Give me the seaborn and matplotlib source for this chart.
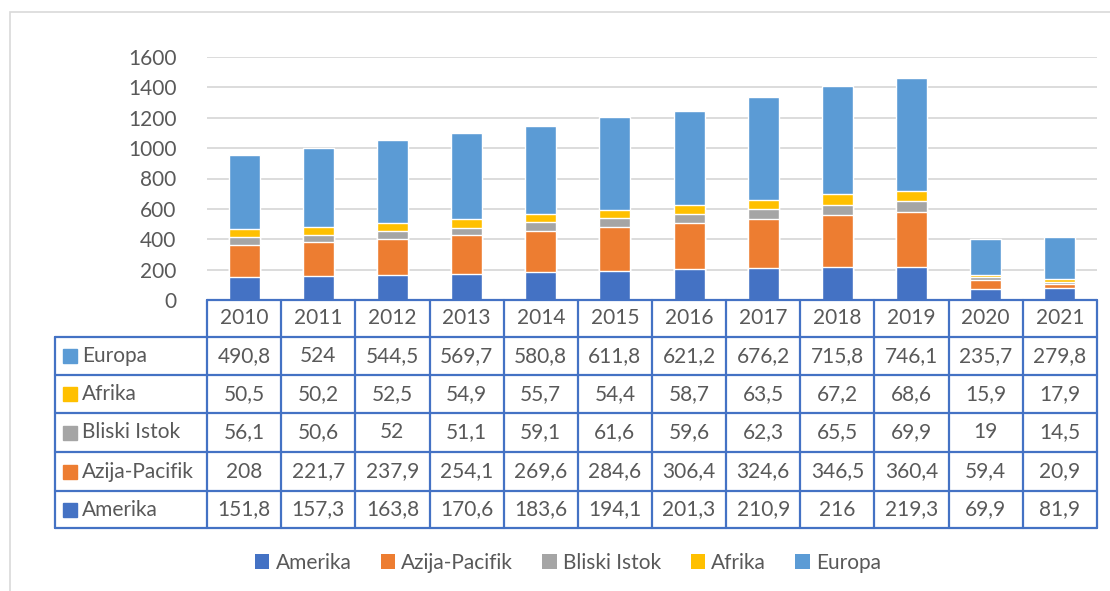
import numpy as np
import pandas as pd
import seaborn as sns
import matplotlib.pyplot as plt
from matplotlib.lines import Line2D
from matplotlib.patches import Rectangle, Patch

years = ["2010", "2011", "2012", "2013", "2014", "2015", "2016", "2017", "2018", "2019", "2020", "2021"]
amerika = [151.8, 157.3, 163.8, 170.6, 183.6, 194.1, 201.3, 210.9, 216, 219.3, 69.9, 81.9]
azija = [208, 221.7, 237.9, 254.1, 269.6, 284.6, 306.4, 324.6, 346.5, 360.4, 59.4, 20.9]
bliski = [56.1, 50.6, 52, 51.1, 59.1, 61.6, 59.6, 62.3, 65.5, 69.9, 19, 14.5]
afrika = [50.5, 50.2, 52.5, 54.9, 55.7, 54.4, 58.7, 63.5, 67.2, 68.6, 15.9, 17.9]
europa = [490.8, 524, 544.5, 569.7, 580.8, 611.8, 621.2, 676.2, 715.8, 746.1, 235.7, 279.8]

series = ["Amerika", "Azija-Pacifik", "Bliski Istok", "Afrika", "Europa"]
colors = ["#4472C4", "#ED7D31", "#A5A5A5", "#FFC000", "#5B9BD5"]

df = pd.DataFrame({"year": years, "Amerika": amerika, "Azija-Pacifik": azija,
                   "Bliski Istok": bliski, "Afrika": afrika, "Europa": europa})
cum = df[series].cumsum(axis=1)

sns.set_style("white")
plt.rcParams["font.family"] = ["Lato", "DejaVu Sans"]
txt = "#595959"
fs = 15

W, H = 1110, 591
fig = plt.figure(figsize=(W / 100, H / 100), dpi=100)

def fx(px):
    return px / W

def fy(py):
    return 1 - py / H

# plot area in pixel layout
left, right, top, base = 207, 1097, 57, 300
ax = fig.add_axes([fx(left), fy(base), fx(right - left), (base - top) / H])

# stacked bars: draw cumulative totals from top series down
for name, col in reversed(list(zip(series, colors))):
    sns.barplot(x=df["year"], y=cum[name], color=col, width=0.42,
                saturation=1, ax=ax, zorder=3)

ax.set_ylim(0, 1600)
ax.set_xlim(-0.5, len(years) - 0.5)
ax.set_yticks(np.arange(0, 1601, 200))
ax.yaxis.grid(True, color="#D9D9D9", linewidth=1.3, zorder=0)
ax.set_axisbelow(True)
ax.set_xticks([])
ax.set_xlabel("")
ax.set_ylabel("")
ax.tick_params(axis="y", length=0, labelsize=fs, labelcolor=txt, pad=22)
for s in ax.spines.values():
    s.set_visible(False)

# outer chart border (right and bottom fall outside the picture)
fig.add_artist(Rectangle((fx(10), fy(620)), fx(1130), (620 - 12) / H,
                         transform=fig.transFigure, fill=False,
                         edgecolor="#D9D9D9", linewidth=1.2))

# data table
tab_left = 55
row_y = [300, 337, 375, 413, 452, 491, 528]
colw = (right - left) / len(years)
line_col = "#4472C4"

def hline(x0, x1, y):
    fig.add_artist(Line2D([fx(x0), fx(x1)], [fy(y), fy(y)], color=line_col, lw=1.6))

def vline(x, y0, y1):
    fig.add_artist(Line2D([fx(x), fx(x)], [fy(y0), fy(y1)], color=line_col, lw=1.6))

hline(left, right, row_y[0])
for y in row_y[1:]:
    hline(tab_left, right, y)
for i in range(len(years) + 1):
    vline(left + i * colw, row_y[0], row_y[-1])
vline(tab_left, row_y[1], row_y[-1])

for i, yr in enumerate(years):
    fig.text(fx(left + (i + 0.5) * colw), fy((row_y[0] + row_y[1]) / 2), yr,
             ha="center", va="center", fontsize=fs, color=txt)

table_rows = list(reversed(list(zip(series, colors, [amerika, azija, bliski, afrika, europa]))))
for r, (name, col, vals) in enumerate(table_rows):
    yc = (row_y[r + 1] + row_y[r + 2]) / 2
    fig.add_artist(Rectangle((fx(63), fy(yc + 7)), fx(14), 14 / H,
                             transform=fig.transFigure, color=col))
    fig.text(fx(82), fy(yc), name, ha="left", va="center", fontsize=fs, color=txt)
    for i, v in enumerate(vals):
        label = f"{v:g}".replace(".", ",")
        fig.text(fx(left + (i + 0.5) * colw), fy(yc), label,
                 ha="center", va="center", fontsize=fs, color=txt)

# legend
handles = [Patch(facecolor=c, edgecolor="none", label=n) for n, c in zip(series, colors)]
leg = fig.legend(handles=handles, loc="center", bbox_to_anchor=(fx(568), fy(563)),
                 ncol=5, frameon=False, fontsize=fs, handlelength=0.7,
                 handleheight=0.7, handletextpad=0.3, columnspacing=1.4)
for t in leg.get_texts():
    t.set_color(txt)

fig.savefig("out.png", dpi=100)
